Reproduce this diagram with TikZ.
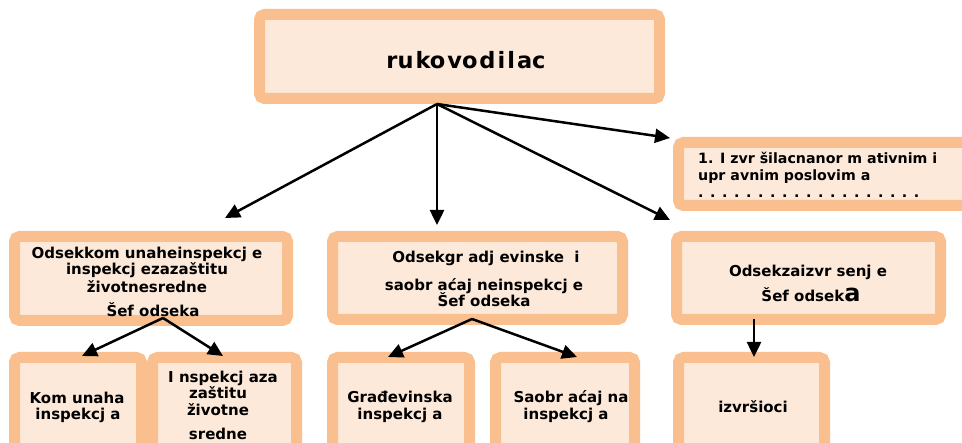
\documentclass[tikz,border=0pt]{standalone}
\usepackage{fontspec}
\setmainfont{DejaVu Sans}
\usetikzlibrary{arrows.meta}
\definecolor{bord}{HTML}{FABF8F}
\definecolor{fillc}{HTML}{FDE9D9}
\begin{document}
\begin{tikzpicture}[x=1pt,y=-1pt,
  obox/.style={draw=bord, fill=fillc, line width=11pt, rounded corners=5pt, inner sep=0pt},
  txt/.style={font=\bfseries\fontsize{15}{17}\selectfont, inner sep=0pt, anchor=base},
  rtxt/.style={font=\bfseries\fontsize{14.2}{16}\selectfont, inner sep=0pt, anchor=base west},
  arr/.style={line width=2.5pt, -{Triangle[length=15pt,width=14pt]}}]
\useasboundingbox (0,0) rectangle (962,443);
\clip (0,0) rectangle (962,443);
% boxes
\node[obox, minimum width=400pt, minimum height=84pt] (top) at (459.5,56.5) {};
\node[obox, minimum width=291pt, minimum height=63pt] (r1) at (824,174) {};
\node[obox, minimum width=273pt, minimum height=84pt] (a) at (151,278.5) {};
\node[obox, minimum width=290pt, minimum height=83pt] (b) at (477.5,278) {};
\node[obox, minimum width=264pt, minimum height=83pt] (c) at (808.5,278) {};
\node[obox, minimum width=127pt, minimum height=107pt] (a1) at (78,411) {};
\node[obox, minimum width=144pt, minimum height=107pt] (a2) at (224.5,411) {};
\node[obox, minimum width=137pt, minimum height=107pt] (b1) at (401,411) {};
\node[obox, minimum width=139pt, minimum height=107pt] (b2) at (565,411) {};
\node[obox, minimum width=146pt, minimum height=107pt] (c1) at (751.5,411) {};
% texts
\node[txt, font=\bfseries\fontsize{22.5}{24}\selectfont] (ttop) at (466,69) {ru\hspace{2pt}ko\hspace{2pt}vo\hspace{2pt}d\hspace{2pt}i\hspace{2pt}l\hspace{2pt}ac};
\node[rtxt] (tr1a) at (698,164) {1. I zvr šilacnanor m ativnim i};
\node[rtxt] (tr1b) at (698,181) {upr avnim poslovim a};
\node[rtxt] (tr1c) at (698,198) {. . . . . . . . . . . . . . . . . . .};
\node[txt] (ta1) at (147,259) {Odsekkom unaheinspekcj e};
\node[txt] (ta2) at (147,275) {inspekcj ezazaštitu};
\node[txt] (ta3) at (147,293) {životnesredne};
\node[txt] (ta4) at (153,317) {Šef odseka};
\node[txt] (tb1) at (486,263) {Odsekgr adj evinske\ \ i};
\node[txt] (tb2) at (484,291) {saobr aćaj neinspekcj e};
\node[txt] (tb3) at (484,307) {Šef odseka};
\node[txt] (tc1) at (808,277) {Odsekzaizvr senj e};
\node[txt] (tc2) at (811,302) {Šef odsek{\fontsize{24}{26}\selectfont a}};
\node[txt] (ta11) at (77,404) {Kom unaha};
\node[txt] (ta12) at (78,420) {inspekcj a};
\node[txt] (ta21) at (223,383) {I nspekcj aza};
\node[txt] (ta22) at (218,399) {zaštitu};
\node[txt] (ta23) at (218,416) {životne};
\node[txt] (ta24) at (218,440) {sredne};
\node[txt] (tb11) at (400,403) {Građevinska};
\node[txt] (tb12) at (400,420) {inspekcj a};
\node[txt] (tb21) at (571,403) {Saobr aćaj na};
\node[txt] (tb22) at (566,420) {inspekcj a};
\node[txt] (tc11) at (753,413) {izvršioci};
% connector coordinates
\coordinate (s0) at (437,104);
\coordinate (ea) at (225,218);
\coordinate (eb) at (437,225);
\coordinate (ec) at (670,220);
\coordinate (er) at (670,138);
\coordinate (sa) at (163,318);
\coordinate (ea1) at (82,356);
\coordinate (ea2) at (223,356);
\coordinate (sb) at (472,319);
\coordinate (eb1) at (388,357);
\coordinate (eb2) at (577,357);
\coordinate (sc) at (754,319);
\coordinate (ec1) at (754,357);
\draw[arr] (s0) -- (ea);
\draw[arr] (s0) -- (eb);
\draw[arr] (s0) -- (ec);
\draw[arr] (s0) -- (er);
\draw[arr] (sa) -- (ea1);
\draw[arr] (sa) -- (ea2);
\draw[arr] (sb) -- (eb1);
\draw[arr] (sb) -- (eb2);
\draw[arr] (sc) -- (ec1);
\end{tikzpicture}
\end{document}
